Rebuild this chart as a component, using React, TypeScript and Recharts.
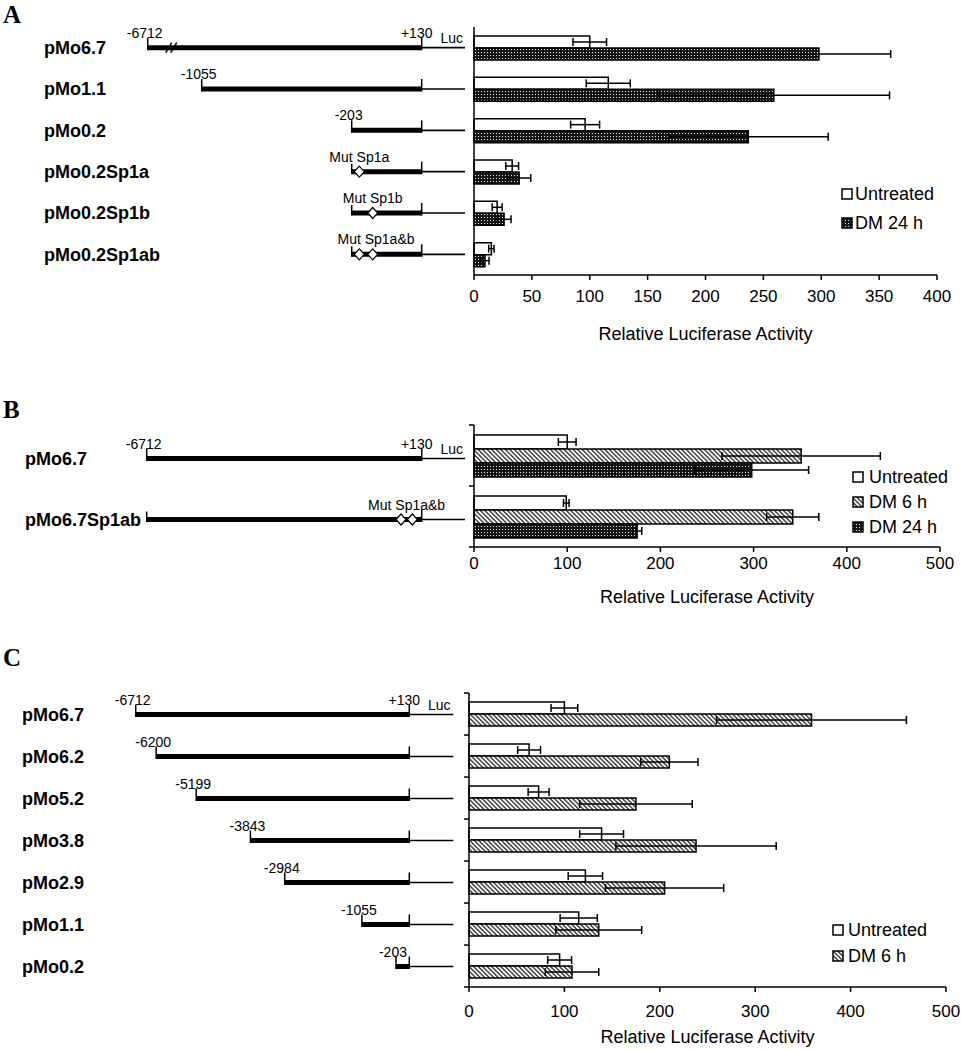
import { Bar, BarChart, ErrorBar, Label, Legend, XAxis, YAxis } from 'recharts'

const FONT = '"Liberation Sans", Arial, sans-serif'

// ---- Panel A: 5' deletions and Sp1 mutants, untreated vs DM 24 h
const namesA = ['pMo6.7', 'pMo1.1', 'pMo0.2', 'pMo0.2Sp1a', 'pMo0.2Sp1b', 'pMo0.2Sp1ab']
const startA = [-6712, -1055, -203, -203, -203, -203]
const mutA = ['', '', '', 'Sp1a', 'Sp1b', 'Sp1a&b']
const sitesA = [[], [], [], ['a'], ['b'], ['a', 'b']]
const untreatedA = [100, 116, 96, 33, 20, 15]
const untreatedErrA = [14.5, 19, 12.5, 5.5, 4.3, 2.3]
const dm24A = [298, 259, 237, 39, 26, 9.5]
const dm24ErrA = [62, 100, 69, 10, 6, 3.5]
const ticksA = [0, 50, 100, 150, 200, 250, 300, 350, 400]
const seriesA = ['Untreated', 'DM 24 h']

// ---- Panel B: full length promoter with Sp1a&b mutation
const namesB = ['pMo6.7', 'pMo6.7Sp1ab']
const startB = [-6712, -6712]
const mutB = ['', 'Sp1a&b']
const sitesB = [[], ['a', 'b']]
const untreatedB = [100, 99]
const untreatedErrB = [9.5, 3]
const dm6B = [351, 342]
const dm6ErrB = [85, 28]
const dm24B = [298, 175]
const dm24ErrB = [61, 5]
const ticksB = [0, 100, 200, 300, 400, 500]
const seriesB = ['Untreated', 'DM 6 h', 'DM 24 h']

// ---- Panel C: 5' deletion series, untreated vs DM 6 h
const namesC = ['pMo6.7', 'pMo6.2', 'pMo5.2', 'pMo3.8', 'pMo2.9', 'pMo1.1', 'pMo0.2']
const startC = [-6712, -6200, -5199, -3843, -2984, -1055, -203]
const untreatedC = [100, 63, 73, 139, 122, 115, 95]
const untreatedErrC = [14, 12, 11, 23, 18, 19.5, 12.5]
const dm6C = [359, 210, 175, 238, 205, 136, 108]
const dm6ErrC = [99.5, 30, 59, 84, 62, 45, 28]
const ticksC = [0, 100, 200, 300, 400, 500]
const seriesC = ['Untreated', 'DM 6 h']

const dataA = namesA.map((name, i) => ({
  name,
  untreated: untreatedA[i],
  untreatedErr: untreatedErrA[i],
  dm24: dm24A[i],
  dm24Err: dm24ErrA[i],
}))
const dataB = namesB.map((name, i) => ({
  name,
  untreated: untreatedB[i],
  untreatedErr: untreatedErrB[i],
  dm6: dm6B[i],
  dm6Err: dm6ErrB[i],
  dm24: dm24B[i],
  dm24Err: dm24ErrB[i],
}))
const dataC = namesC.map((name, i) => ({
  name,
  untreated: untreatedC[i],
  untreatedErr: untreatedErrC[i],
  dm6: dm6C[i],
  dm6Err: dm6ErrC[i],
}))

// piecewise linear map for the promoter sketches (bp -> px)
function piecewise(domain: number[], range: number[]) {
  return (v: number) => {
    let i = 0
    while (i < domain.length - 2 && v > domain[i + 1]) i++
    const t = (v - domain[i]) / (domain[i + 1] - domain[i])
    return range[i] + t * (range[i + 1] - range[i])
  }
}

type DiagramCfg = {
  labelX: number
  scale: (v: number) => number
  endX: number
  siteX: { [k: string]: number }
  mutShift: number
  breakFirst: boolean
  axisX: number
  band: number
  count: number
  boundaryTicks: boolean
  rowDy: number
  starts: number[]
  muts: string[]
  sites: string[][]
}

function makeTick(cfg: DiagramCfg) {
  return (props: any) => {
    const { y, payload, index } = props
    const ry = y + cfg.rowDy
    const sx = cfg.scale(cfg.starts[index])
    const px = cfg.scale(130)
    const mut = cfg.muts[index]
    const sites = cfg.sites[index]
    const first = index === 0
    const siteXs = sites.map((s) => px + cfg.siteX[s])
    const mutCenter = siteXs.length
      ? siteXs.reduce((a, b) => a + b, 0) / siteXs.length + (siteXs.length > 1 ? cfg.mutShift : 0)
      : 0
    return (
      <g>
        <text x={cfg.labelX} y={ry} dy="0.35em" fontSize={18} fontWeight="bold" fill="#000">
          {payload.value}
        </text>
        <line x1={sx} x2={px} y1={ry} y2={ry} stroke="#000" strokeWidth={5} />
        <line x1={px} x2={cfg.endX} y1={ry} y2={ry} stroke="#000" strokeWidth={1.6} />
        <line x1={sx} x2={sx} y1={ry - (mut ? 8 : 10)} y2={ry + 2.5} stroke="#000" strokeWidth={1.5} />
        <line x1={px} x2={px} y1={ry - 10} y2={ry + 2.5} stroke="#000" strokeWidth={1.5} />
        {!mut && (
          <text x={sx - 3} y={ry - 10} textAnchor="middle" fontSize={14} fill="#000">
            {String(cfg.starts[index])}
          </text>
        )}
        {first && (
          <text x={px - 5} y={ry - 10} textAnchor="middle" fontSize={14} fill="#000">
            +130
          </text>
        )}
        {first && (
          <text x={px + 30} y={ry - 5} textAnchor="middle" fontSize={14} fill="#000">
            Luc
          </text>
        )}
        {first && cfg.breakFirst && (
          <g stroke="#000" strokeWidth={1.5}>
            <line x1={sx + 18} y1={ry + 5} x2={sx + 24} y2={ry - 5} />
            <line x1={sx + 23} y1={ry + 5} x2={sx + 29} y2={ry - 5} />
          </g>
        )}
        {mut && (
          <text x={mutCenter} y={ry - 10} textAnchor="middle" fontSize={14} fill="#000">
            {'Mut ' + mut}
          </text>
        )}
        {siteXs.map((cx, k) => (
          <polygon
            key={k}
            points={`${cx - 5},${ry} ${cx},${ry - 5.5} ${cx + 5},${ry} ${cx},${ry + 5.5}`}
            fill="#fff"
            stroke="#000"
            strokeWidth={1.2}
          />
        ))}
        {cfg.boundaryTicks && (
          <line x1={cfg.axisX - 5} x2={cfg.axisX} y1={y - cfg.band / 2} y2={y - cfg.band / 2} stroke="#000" strokeWidth={1.5} />
        )}
        {cfg.boundaryTicks && index === cfg.count - 1 && (
          <line x1={cfg.axisX - 5} x2={cfg.axisX} y1={y + cfg.band / 2} y2={y + cfg.band / 2} stroke="#000" strokeWidth={1.5} />
        )}
      </g>
    )
  }
}

function legendContent(order: string[], gap: number, textGap: number) {
  return (props: any) => {
    const items = [...(props.payload || [])].sort(
      (a: any, b: any) => order.indexOf(a.value) - order.indexOf(b.value)
    )
    return (
      <svg width={140} height={items.length * gap + 10} style={{ display: 'block', overflow: 'visible' }}>
        {items.map((it: any, i: number) => (
          <g key={i}>
            <rect x={1} y={14 + i * gap - 5} width={10} height={10} fill={it.color} stroke="#000" strokeWidth={1.5} />
            <text x={11 + textGap} y={14 + i * gap} dy="0.35em" fontSize={18} fill="#000" fontFamily={FONT}>
              {it.value}
            </text>
          </g>
        ))}
      </svg>
    )
  }
}

const axisTick = { fill: '#000', fontSize: 17, fontFamily: FONT }
const axisLine = { stroke: '#000', strokeWidth: 1.5 }
const errProps = { stroke: '#000', strokeWidth: 1.5, width: 4 }

export default function App() {
  const tickA = makeTick({
    labelX: 44,
    scale: piecewise([-6712, -1055, -203, 130], [147.7, 201.7, 351.7, 421.7]),
    endX: 465,
    siteX: { a: -62.4, b: -49 },
    mutShift: 10,
    breakFirst: true,
    axisX: 474,
    band: 248 / 6,
    count: 6,
    boundaryTicks: false,
    rowDy: 0,
    starts: startA,
    muts: mutA,
    sites: sitesA,
  })
  const tickB = makeTick({
    labelX: 25,
    scale: piecewise([-6712, 130], [146.7, 421.7]),
    endX: 465,
    siteX: { a: -20.7, b: -9.4 },
    mutShift: 0,
    breakFirst: false,
    axisX: 474,
    band: 61,
    count: 2,
    boundaryTicks: true,
    rowDy: 3,
    starts: startB,
    muts: mutB,
    sites: sitesB,
  })
  const tickC = makeTick({
    labelX: 22,
    scale: piecewise([-6712, 130], [135.7, 409.3]),
    endX: 453.3,
    siteX: {},
    mutShift: 0,
    breakFirst: false,
    axisX: 469,
    band: 293.4 / 7,
    count: 7,
    boundaryTicks: true,
    rowDy: 0.5,
    starts: startC,
    muts: namesC.map(() => ''),
    sites: namesC.map(() => []),
  })

  return (
    <div style={{ position: 'absolute', left: 0, top: 0, width: 962, height: 1050, background: '#fff', fontFamily: FONT }}>
      <svg width={0} height={0} style={{ position: 'absolute' }}>
        <defs>
          <pattern id="dots" width={3} height={3} patternUnits="userSpaceOnUse">
            <rect width={3} height={3} fill="#151515" />
            <rect x={1} y={1} width={1} height={1} fill="#e8e8e8" />
          </pattern>
          <pattern id="hatch" width={3.2} height={3.2} patternUnits="userSpaceOnUse" patternTransform="rotate(-45)">
            <rect width={3.2} height={3.2} fill="#fff" />
            <line x1={1.6} y1={0} x2={1.6} y2={3.2} stroke="#000" strokeWidth={1.1} />
          </pattern>
        </defs>
      </svg>

      <svg width={962} height={1050} style={{ position: 'absolute', left: 0, top: 0 }}>
        <g fontFamily='"Liberation Serif", "Times New Roman", serif' fontWeight="bold" fontSize={25} fill="#000">
          <text x={3} y={23}>A</text>
          <text x={3} y={418}>B</text>
          <text x={3} y={666}>C</text>
        </g>
      </svg>

      <div style={{ position: 'absolute', left: 0, top: 0 }}>
        <BarChart
          width={962}
          height={350}
          data={dataA}
          layout="vertical"
          margin={{ top: 27, right: 25, bottom: 10, left: 0 }}
          barGap={0}
        >
          <XAxis
            type="number"
            domain={[0, 400]}
            ticks={ticksA}
            height={65}
            tick={axisTick}
            tickSize={5}
            tickMargin={10}
            axisLine={axisLine}
            tickLine={{ stroke: '#000', strokeWidth: 1.5 }}
          >
            <Label value="Relative Luciferase Activity" position="insideBottom" offset={0} fill="#000" fontSize={18} />
          </XAxis>
          <YAxis type="category" dataKey="name" width={474} interval={0} tick={tickA} tickLine={false} axisLine={axisLine} />
          <Legend
            layout="vertical"
            align="center"
            verticalAlign="middle"
            wrapperStyle={{ left: 841, top: 180, width: 140 }}
            content={legendContent(seriesA, 29, 3)}
          />
          <Bar dataKey="untreated" name={seriesA[0]} fill="#fff" stroke="#000" strokeWidth={1.5} barSize={12} isAnimationActive={false}>
            <ErrorBar dataKey="untreatedErr" direction="x" {...errProps} />
          </Bar>
          <Bar dataKey="dm24" name={seriesA[1]} fill="url(#dots)" stroke="#000" strokeWidth={1.5} barSize={12} isAnimationActive={false}>
            <ErrorBar dataKey="dm24Err" direction="x" {...errProps} />
          </Bar>
        </BarChart>
      </div>

      <div style={{ position: 'absolute', left: 0, top: 390 }}>
        <BarChart
          width={962}
          height={230}
          data={dataB}
          layout="vertical"
          margin={{ top: 35, right: 22, bottom: 17, left: 0 }}
          barGap={0}
        >
          <XAxis
            type="number"
            domain={[0, 500]}
            ticks={ticksB}
            height={56}
            tick={axisTick}
            tickSize={5}
            tickMargin={5}
            axisLine={axisLine}
            tickLine={{ stroke: '#000', strokeWidth: 1.5 }}
          >
            <Label value="Relative Luciferase Activity" position="insideBottom" offset={0} fill="#000" fontSize={18} />
          </XAxis>
          <YAxis type="category" dataKey="name" width={474} interval={0} tick={tickB} tickLine={false} axisLine={axisLine} />
          <Legend
            layout="vertical"
            align="center"
            verticalAlign="middle"
            wrapperStyle={{ left: 852, top: 73, width: 140 }}
            content={legendContent(seriesB, 25, 6)}
          />
          <Bar dataKey="untreated" name={seriesB[0]} fill="#fff" stroke="#000" strokeWidth={1.5} barSize={14} isAnimationActive={false}>
            <ErrorBar dataKey="untreatedErr" direction="x" {...errProps} />
          </Bar>
          <Bar dataKey="dm6" name={seriesB[1]} fill="url(#hatch)" stroke="#000" strokeWidth={1.5} barSize={14} isAnimationActive={false}>
            <ErrorBar dataKey="dm6Err" direction="x" {...errProps} />
          </Bar>
          <Bar dataKey="dm24" name={seriesB[2]} fill="url(#dots)" stroke="#000" strokeWidth={1.5} barSize={14} isAnimationActive={false}>
            <ErrorBar dataKey="dm24Err" direction="x" {...errProps} />
          </Bar>
        </BarChart>
      </div>

      <div style={{ position: 'absolute', left: 0, top: 640 }}>
        <BarChart
          width={962}
          height={410}
          data={dataC}
          layout="vertical"
          margin={{ top: 53, right: 16, bottom: 7, left: 0 }}
          barGap={0}
        >
          <XAxis
            type="number"
            domain={[0, 500]}
            ticks={ticksC}
            height={56}
            tick={axisTick}
            tickSize={5}
            tickMargin={13}
            axisLine={axisLine}
            tickLine={{ stroke: '#000', strokeWidth: 1.5 }}
          >
            <Label value="Relative Luciferase Activity" position="insideBottom" offset={0} fill="#000" fontSize={18} />
          </XAxis>
          <YAxis type="category" dataKey="name" width={469} interval={0} tick={tickC} tickLine={false} axisLine={axisLine} />
          <Legend
            layout="vertical"
            align="center"
            verticalAlign="middle"
            wrapperStyle={{ left: 832, top: 276, width: 140 }}
            content={legendContent(seriesC, 26, 5)}
          />
          <Bar dataKey="untreated" name={seriesC[0]} fill="#fff" stroke="#000" strokeWidth={1.5} barSize={12} isAnimationActive={false}>
            <ErrorBar dataKey="untreatedErr" direction="x" {...errProps} />
          </Bar>
          <Bar dataKey="dm6" name={seriesC[1]} fill="url(#hatch)" stroke="#000" strokeWidth={1.5} barSize={12} isAnimationActive={false}>
            <ErrorBar dataKey="dm6Err" direction="x" {...errProps} />
          </Bar>
        </BarChart>
      </div>
    </div>
  )
}
